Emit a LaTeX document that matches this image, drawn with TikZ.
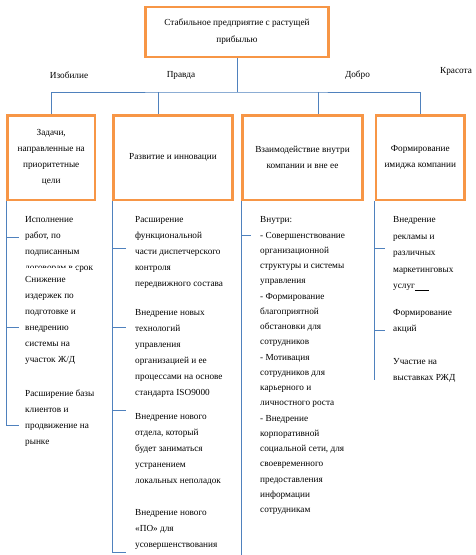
\documentclass[tikz,border=0pt]{standalone}
\usepackage{fontspec}
\setmainfont{Liberation Serif}
\usetikzlibrary{calc}
\definecolor{box-orange}{HTML}{F79646}
\definecolor{link-blue}{HTML}{4F81BD}
\tikzset{
    goal-box/.style = {draw=box-orange, line width=2.5pt, rectangle, align=center, font=\fontsize{9.25}{17}\selectfont},
    area-box/.style = {draw=box-orange, line width=2.5pt, rectangle, align=center, font=\fontsize{9.25}{16}\selectfont},
    item-text/.style = {anchor=north west, align=left, inner sep=0pt, font=\fontsize{9.25}{16}\selectfont},
    value-label/.style = {font=\fontsize{9.25}{11}\selectfont},
    link/.style = {draw=link-blue, line width=0.9pt},
}

\begin{document}
\begin{tikzpicture}[x=1pt, y=-1pt]
\useasboundingbox (0,0) rectangle (475,555);

\node [goal-box, minimum width=183pt, minimum height=50pt] (goal) at (237,32)
    {Стабильное предприятие с растущей\\прибылью};

\node [area-box, minimum width=87.5pt, minimum height=84.5pt] (b1) at (51.25,157.75)
    {Задачи,\\направленные на\\приоритетные\\цели};
\node [area-box, minimum width=119pt, minimum height=84.5pt] (b2) at (173,157.75)
    {Развитие и инновации};
\node [area-box, minimum width=120pt, minimum height=84.5pt] (b3) at (302.5,157.75)
    {Взаимодействие внутри\\компании и вне ее};
\node [area-box, minimum width=88.5pt, minimum height=84.5pt] (b4) at (420.25,157.75)
    {Формирование\\имиджа компании};

\node [value-label] (abundance) at (69,75) {Изобилие};
\node [value-label] (truth) at (181,75) {Правда};
\node [value-label] (good) at (357.5,75) {Добро};
\node [value-label] (beauty) at (456,71) {Красота};

\coordinate (hub) at (237,92);
\coordinate (d2) at (158,92);
\coordinate (d3) at (318,92);
\draw [link] (goal.south) -- (hub);
\draw [link] (b1.north) |- (hub) -| (b4.north);
\draw [link] (d2) -- (d2 |- b2.north);
\draw [link] (d3) -- (d3 |- b3.north);

\node [item-text] (t11) at (25,216.5) {Исполнение\\работ, по\\подписанным\\договорам в срок};
\node [item-text, fill=white, inner ysep=8pt] (t12) at (25,268)
    {Снижение\\издержек по\\подготовке и\\внедрению\\системы на\\участок Ж/Д};
\node [item-text] (t13) at (25,389.5) {Расширение базы\\клиентов и\\продвижение на\\рынке};
\draw [link] (b1.south west) -- ++(0,224) -- ++(12.5,0);
\foreach \y in {237,327}
    \draw [link] (b1.south west |- 0,\y) -- ++(12.5,0);

\node [item-text] (t21) at (135,216.5) {Расширение\\функциональной\\части диспетчерского\\контроля\\передвижного состава};
\node [item-text] (t22) at (135,309.5) {Внедрение новых\\технологий\\управления\\организацией и ее\\процессами на основе\\стандарта ISO9000};
\node [item-text] (t23) at (135,413.5) {Внедрение нового\\отдела, который\\будет заниматься\\устранением\\локальных неполадок};
\node [item-text] (t24) at (135,509.5) {Внедрение нового\\«ПО» для\\усовершенствования};
\draw [link] (b2.south west) -- ++(0,351) -- ++(14,0);
\foreach \y in {248,327,410}
    \draw [link] (b2.south west |- 0,\y) -- ++(14,0);

\node [item-text, font=\fontsize{9.25}{15.25}\selectfont] (t31) at (260,216.5)
    {Внутри:\\- Совершенствование\\организационной\\структуры и системы\\управления\\- Формирование\\благоприятной\\обстановки для\\сотрудников\\- Мотивация\\сотрудников для\\карьерного и\\личностного роста\\- Внедрение\\корпоративной\\социальной сети, для\\своевременного\\предоставления\\информации\\сотрудникам};
\draw [link] (b3.south west) -- ++(0,360);
\draw [link] (b3.south west |- 0,235) -- ++(10,0);

\node [item-text, font=\fontsize{9.25}{16.5}\selectfont] (t41) at (393,216.5)
    {Внедрение\\рекламы и\\различных\\маркетинговых\\услуг\rule[-1.5pt]{14pt}{0.5pt}};
\node [item-text] (t42) at (393,309.5) {Формирование\\акций};
\node [item-text] (t43) at (393,358.5) {Участие на\\выставках  РЖД};
\draw [link] (b4.south west) -- ++(0,179);
\foreach \y in {248,330}
    \draw [link] (b4.south west |- 0,\y) -- ++(10,0);
\end{tikzpicture}
\end{document}
